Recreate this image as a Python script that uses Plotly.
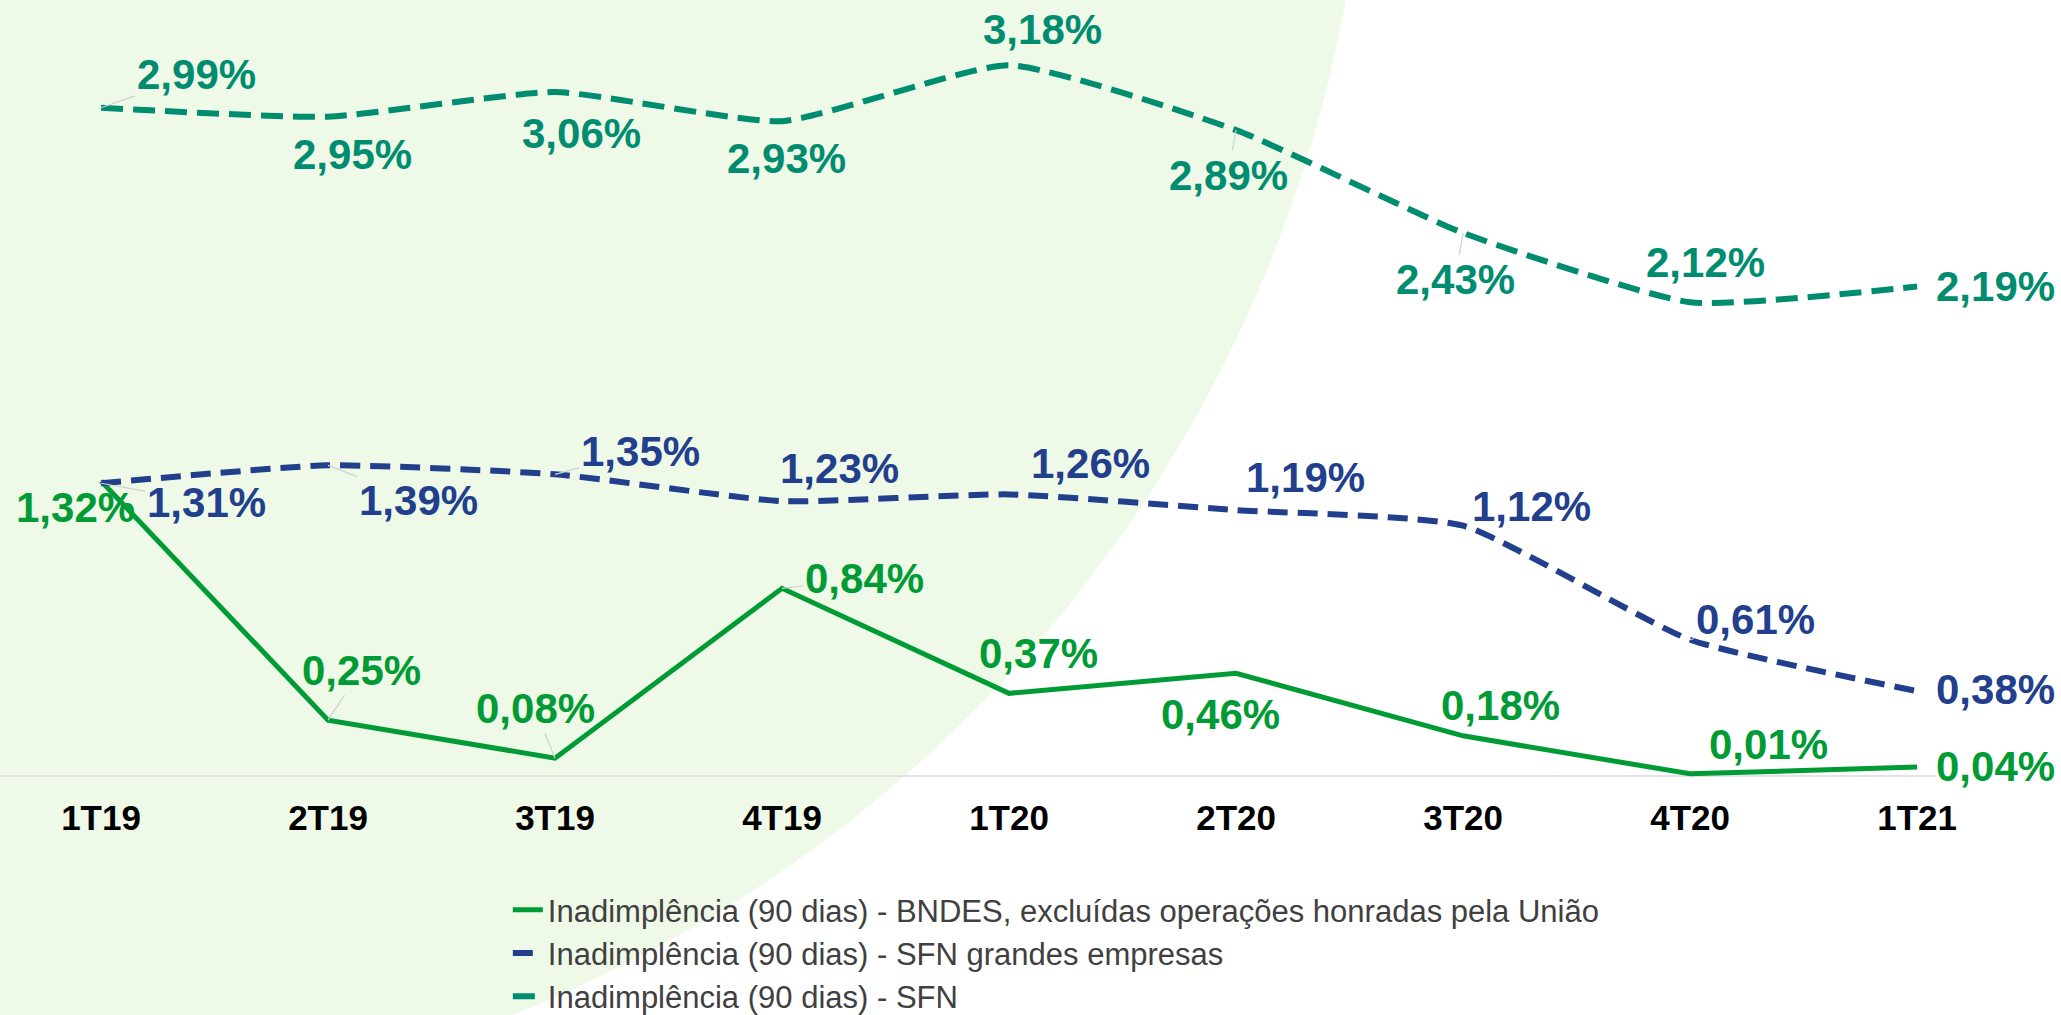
import plotly.graph_objects as go

# periodos (trimestres)
trimestres = ['1T19', '2T19', '3T19', '4T19', '1T20', '2T20', '3T20', '4T20', '1T21']

bndes = [1.32, 0.25, 0.08, 0.84, 0.37, 0.46, 0.18, 0.01, 0.04]
sfn_grandes = [1.31, 1.39, 1.35, 1.23, 1.26, 1.19, 1.12, 0.61, 0.38]
sfn = [2.99, 2.95, 3.06, 2.93, 3.18, 2.89, 2.43, 2.12, 2.19]

nomes = ['Inadimplência (90 dias) - BNDES, excluídas operações honradas pela União',
         'Inadimplência (90 dias) - SFN grandes empresas',
         'Inadimplência (90 dias) - SFN']

VERDE = '#009B35'
AZUL = '#213F8D'
TEAL = '#008C6F'
FONTE = 'Liberation Sans, Arial, sans-serif'

# posicao dos rotulos (deslocamento em px a partir do ponto) e se tem linha guia
off_bndes = [(-26, 26), (33, -50), (-20, -50), (82, -10), (29, -40), (-16, 41), (37, -30), (78, -29), (78, -1)]
guia_bndes = [1, 1, 1, 1, 0, 0, 0, 0, 0]
off_grandes = [(105, 19), (90, 35), (85, -23), (57, -33), (81, -31), (69, -33), (68, -19), (65, -20), (78, -2)]
guia_grandes = [1, 1, 1, 0, 0, 0, 0, 1, 0]
off_sfn = [(95, -33), (24, 38), (26, 41), (4, 37), (33, -36), (-8, 45), (-8, 47), (15, -40), (78, 0)]
guia_sfn = [1, 0, 0, 0, 0, 1, 1, 0, 0]

xs = list(range(len(trimestres)))

fig = go.Figure()
fig.add_trace(go.Scatter(x=xs, y=bndes, name=nomes[0], mode='lines',
                         line=dict(color=VERDE, width=5)))
fig.add_trace(go.Scatter(x=xs, y=sfn_grandes, name=nomes[1], mode='lines',
                         line=dict(color=AZUL, width=6, dash='20px,10px', shape='spline', smoothing=0.5)))
fig.add_trace(go.Scatter(x=xs, y=sfn, name=nomes[2], mode='lines',
                         line=dict(color=TEAL, width=6, dash='22px,10px', shape='spline', smoothing=0.5)))


def fmt(v):
    return ('%.2f' % v).replace('.', ',') + '%'


anots = []
for serie, offs, guias, cor in [(bndes, off_bndes, guia_bndes, VERDE),
                                (sfn_grandes, off_grandes, guia_grandes, AZUL),
                                (sfn, off_sfn, guia_sfn, TEAL)]:
    for i, v in enumerate(serie):
        anots.append(dict(
            x=xs[i], y=v, text='<b>' + fmt(v) + '</b>',
            showarrow=True, ax=offs[i][0], ay=offs[i][1],
            arrowhead=0, arrowwidth=1.2,
            arrowcolor='#D0D0D0' if guias[i] else 'rgba(0,0,0,0)',
            font=dict(family=FONTE, size=42, color=cor)))

fig.update_layout(
    width=2061, height=1015,
    margin=dict(l=0, r=0, t=0, b=0, autoexpand=False),
    paper_bgcolor='white',
    plot_bgcolor='rgba(0,0,0,0)',
    font=dict(family=FONTE),
    annotations=anots,
    shapes=[
        # fundo verde claro (arco)
        dict(type='circle', xref='paper', yref='paper', layer='below',
             x0=-0.650, x1=0.6638, y0=-0.0936, y1=2.5744,
             fillcolor='#EEF9E7', line=dict(width=0)),
        # linha de base
        dict(type='line', xref='paper', yref='y', x0=0, x1=0.939, y0=0, y1=0,
             line=dict(color='#E3E3E3', width=2), layer='below'),
    ],
    xaxis=dict(range=[-0.445, 8.634], domain=[0, 1],
               tickvals=xs, ticktext=['<b>%s</b>' % t for t in trimestres],
               tickfont=dict(family=FONTE, size=35, color='black'),
               showgrid=False, zeroline=False, showline=False, ticks=''),
    yaxis=dict(range=[-0.0805, 3.472], domain=[0.2177, 1],
               showgrid=False, zeroline=False, showticklabels=False),
    legend=dict(x=0.2464, xanchor='left', y=0.13, yanchor='top',
                font=dict(family=FONTE, size=31, color='#404040'),
                bgcolor='rgba(0,0,0,0)', tracegroupgap=0),
    showlegend=True,
)

fig.write_html('out.html', config={'displayModeBar': False},
               post_script=["document.body.style.margin='0px';"])
